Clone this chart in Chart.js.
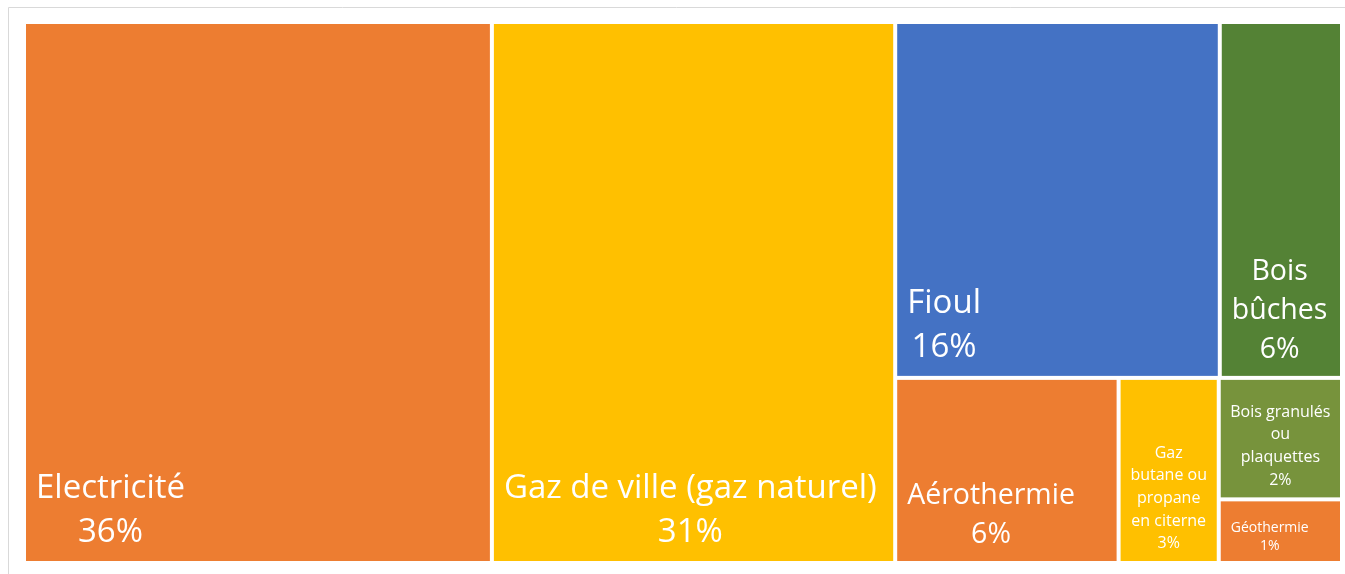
<!DOCTYPE html>
<html lang="fr">
<head>
<meta charset="utf-8">
<title>Energie de chauffage - treemap</title>
<script src="https://cdn.jsdelivr.net/npm/chart.js@4.4.1/dist/chart.umd.min.js"></script>
<style>
  html, body { margin: 0; padding: 0; background: #fff; overflow: hidden; }
  #wrap { position: relative; width: 1345px; height: 574px; }
</style>
</head>
<body>
<div id="wrap"><canvas id="treemap"></canvas></div>
<script>
// -----------------------------------------
// Data (shares)
// -----------------------------------------
const categories = [
  'Electricité', 'Gaz de ville (gaz naturel)', 'Fioul', 'Bois bûches',
  'Aérothermie', 'Gaz butane ou propane en citerne', 'Bois granulés ou plaquettes', 'Géothermie'
];
// label text as it wraps in the picture
const labelLines = [
  ['Electricité'], ['Gaz de ville (gaz naturel)'], ['Fioul'], ['Bois', 'bûches'],
  ['Aérothermie'], ['Gaz', 'butane ou', 'propane', 'en citerne'], ['Bois granulés', 'ou', 'plaquettes'], ['Géothermie']
];
const shares = [35.5, 30.6, 16.2, 6.1, 5.8, 2.6, 2.1, 1.1];
const colors = ['#ED7D31', '#FFC000', '#4472C4', '#548235', '#ED7D31', '#FFC000', '#77933C', '#ED7D31'];

const GAP = 4;
const PAD = 10;
const FONT = "'Open Sans', 'Noto Sans', sans-serif";

// squarified layout, a row is kept while the area-weighted aspect ratio improves
function squarify(vals, rect, aspect) {
  const out = [];
  let { x: rx, y: ry, w: rw, h: rh } = rect;
  let i = 0;
  const sum = arr => arr.reduce((a, b) => a + b, 0);

  while (i < vals.length) {
    const unit = rw * rh / sum(vals.slice(i));
    const vertical = rw * aspect >= rh;

    const place = row => {
      const s = sum(row);
      let off = 0;
      return row.map(v => {
        let c;
        if (vertical) {
          c = { x: rx, y: ry + off, w: s * unit / rh, h: v / s * rh };
          off += c.h;
        } else {
          c = { x: rx + off, y: ry, w: v / s * rw, h: s * unit / rw };
          off += c.w;
        }
        return c;
      });
    };
    const score = row => {
      const cells = place(row);
      let tot = 0;
      cells.forEach((c, k) => {
        const r = (c.w * aspect) / c.h;
        tot += row[k] * Math.max(r, 1 / r);
      });
      return tot / sum(row);
    };

    let row = [vals[i]];
    while (i + row.length < vals.length) {
      const next = row.concat(vals[i + row.length]);
      if (score(next) > score(row)) break;
      row = next;
    }
    place(row).forEach(c => out.push(c));

    const s = sum(row);
    if (vertical) {
      const sw = s * unit / rh;
      rx += sw; rw -= sw;
    } else {
      const sh = s * unit / rw;
      ry += sh; rh -= sh;
    }
    i += row.length;
  }
  return out;
}

function tier(share) {
  if (share >= 10) return { size: 33, lh: 44 };
  if (share >= 4) return { size: 28.5, lh: 39 };
  if (share >= 1.5) return { size: 16, lh: 22.6 };
  return { size: 14, lh: 18 };
}

const treemapPlugin = {
  id: 'treemap',
  beforeDraw(chart) {
    const { ctx, width, height } = chart;
    ctx.save();
    ctx.strokeStyle = '#d9d9d9';
    ctx.lineWidth = 1;
    ctx.beginPath();
    ctx.moveTo(8.5, height);
    ctx.lineTo(8.5, 7.5);
    ctx.lineTo(width, 7.5);
    ctx.stroke();
    ctx.restore();
  },
  afterDatasetsDraw(chart) {
    const { ctx, chartArea, scales: { x, y } } = chart;
    const aspect = chartArea.width / chartArea.height;
    const rects = squarify(shares, { x: 0, y: 0, w: 100, h: 100 }, aspect);

    ctx.save();
    rects.forEach((r, k) => {
      const left = x.getPixelForValue(r.x) + GAP / 2;
      const right = x.getPixelForValue(r.x + r.w) - GAP / 2;
      const top = y.getPixelForValue(r.y) + GAP / 2;
      const bottom = y.getPixelForValue(r.y + r.h) - GAP / 2;

      ctx.fillStyle = colors[k];
      ctx.fillRect(left, top, right - left, bottom - top);

      const t = tier(shares[k]);
      const lines = labelLines[k].concat(Math.round(shares[k]) + '%');
      ctx.font = t.size + 'px ' + FONT;
      ctx.fillStyle = '#ffffff';
      ctx.textAlign = 'center';
      ctx.textBaseline = 'alphabetic';
      const blockW = Math.max(...lines.map(l => ctx.measureText(l).width));
      let cx = left + PAD + blockW / 2;
      if (blockW > right - left - 2 * PAD) cx = (left + right) / 2;
      const last = bottom - (6 + 0.3 * t.lh);
      lines.forEach((l, j) => {
        ctx.fillText(l, cx, last - (lines.length - 1 - j) * t.lh);
      });
    });
    ctx.restore();
  }
};

new Chart(document.getElementById('treemap'), {
  type: 'scatter',
  data: {
    labels: categories,
    datasets: [{ label: 'Part', data: [], pointRadius: 0 }]
  },
  options: {
    responsive: true,
    maintainAspectRatio: false,
    animation: false,
    layout: { padding: { left: 24, top: 22, right: 3, bottom: 11 } },
    plugins: {
      legend: { display: false },
      tooltip: { enabled: false }
    },
    scales: {
      x: { type: 'linear', min: 0, max: 100, display: false },
      y: { type: 'linear', min: 0, max: 100, reverse: true, display: false }
    }
  },
  plugins: [treemapPlugin]
});
</script>
</body>
</html>
